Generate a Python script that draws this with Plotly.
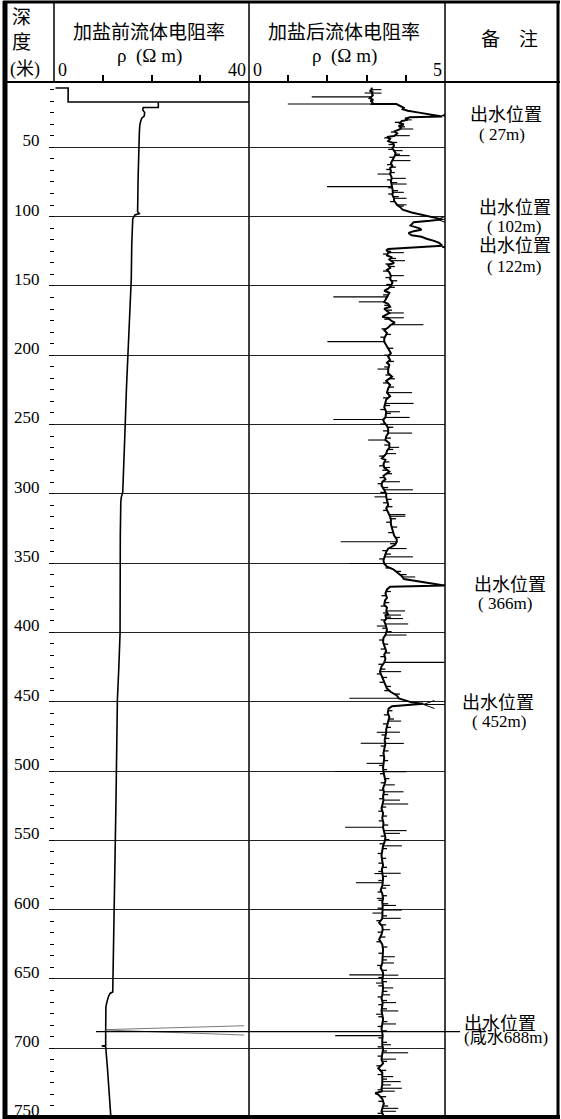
import plotly.graph_objects as go

W, H = 561, 1119

# ---------------- data ----------------
depth_major = [50, 100, 150, 200, 250, 300, 350, 400, 450, 500, 550, 600, 650, 700, 750]
border_ticks = [25, 75, 125, 175, 225, 275, 325, 375, 425, 475, 525, 575, 625, 675, 725]
rho1_ticks = [10, 20, 30]
rho2_ticks = [1, 2, 3, 4]

# before salting: (depth m, resistivity ohm-m)
before_log = [
    (7.2, 0.3), (7.2, 2.9), (17.3, 2.9), (17.3, 40.0), (17.3, 21.4), (21.3, 21.4),
    (21.3, 18.3), (23.0, 18.2), (25.0, 18.6), (27.5, 18.5), (29.0, 18.0), (31.0, 17.8),
    (34.0, 17.6), (40.0, 17.5), (48.8, 17.4), (60.0, 17.35), (72.9, 17.25), (85.0, 17.2),
    (96.5, 17.15), (97.8, 17.5), (98.8, 16.6), (101.7, 16.15), (110.0, 16.0), (120.0, 15.95),
    (145.0, 15.85), (170.0, 15.5), (200.3, 15.05), (225.0, 14.85), (250.9, 14.6), (275.0, 14.35),
    (299.0, 14.1), (302.5, 13.8), (306.2, 13.7), (330.0, 13.6), (349.5, 13.55), (376.0, 13.55),
    (400.7, 13.55), (425.0, 13.3), (448.8, 13.0), (475.0, 12.9), (501.7, 12.85), (525.0, 12.7),
    (549.8, 12.58), (575.0, 12.45), (600.3, 12.38), (625.0, 12.25), (646.0, 12.17), (659.5, 12.05),
    (660.5, 11.5), (662.5, 11.2), (666.0, 10.9), (670.0, 10.65), (686.7, 10.6), (698.0, 10.6),
    (698.3, 9.8), (698.8, 10.6), (713.3, 10.94), (737.4, 11.49), (751.0, 11.69),
]
before_spike = [(686.6, 10.6), (683.8, 39.0), None, (686.9, 10.6), (690.5, 39.0)]

# after salting, main trend: (depth m, resistivity ohm-m)
after_base = [
    (7.0, 3.12), (8.4, 3.14), (9.3, 3.08), (10.2, 3.15), (11.0, 3.13), (12.5, 3.16), (13.6, 3.12),
    (14.6, 3.08), (15.8, 3.17), (16.5, 3.10), (17.5, 3.15), (18.7, 3.13), (18.8, 3.76), (20.0, 3.85),
    (21.5, 3.95), (22.5, 3.92), (23.6, 4.05), (24.8, 4.30), (25.8, 4.55), (26.8, 4.75), (27.7, 4.93),
    (28.4, 4.10), (29.5, 3.98), (30.2, 4.05), (31.0, 3.90), (32.5, 3.85), (33.5, 3.95), (34.5, 3.82),
    (36.0, 3.88), (37.0, 3.85), (38.5, 3.72), (40.0, 3.78), (41.8, 3.70), (42.5, 3.52), (44.0, 3.60),
    (45.5, 3.55), (47.0, 3.68), (49.0, 3.70), (50.5, 3.66), (52.5, 3.70), (54.0, 3.74), (56.1, 3.72),
    (58.0, 3.68), (59.7, 3.66), (61.5, 3.62), (63.5, 3.66), (65.0, 3.60), (67.0, 3.62), (69.4, 3.60),
    (71.0, 3.63), (72.5, 3.64), (74.5, 3.62), (76.6, 3.64), (78.5, 3.65), (80.0, 3.66), (82.6, 3.67),
    (84.5, 3.66), (86.9, 3.70), (88.5, 3.70), (90.0, 3.74), (91.6, 3.78), (93.0, 3.85), (95.0, 3.92),
    (97.0, 4.15), (98.8, 4.45), (100.5, 4.75), (102.0, 4.93), (103.0, 4.62), (104.0, 4.20),
    (106.5, 4.12), (108.5, 4.35), (109.5, 4.40), (110.5, 4.20), (111.8, 4.07), (113.5, 4.15),
    (114.5, 4.40), (116.0, 4.53), (117.5, 4.72), (119.0, 4.85), (121.0, 4.93), (123.4, 3.55),
    (124.5, 3.50), (125.5, 3.62), (126.1, 3.55), (128.0, 3.52), (129.5, 3.65), (131.0, 3.58),
    (131.9, 3.62), (133.5, 3.70), (135.0, 3.55), (137.0, 3.60), (138.5, 3.52), (140.2, 3.58),
    (142.7, 3.62), (145.0, 3.60), (147.5, 3.66), (150.0, 3.62), (152.0, 3.55), (153.5, 3.45),
    (155.0, 3.58), (158.0, 3.52), (160.0, 3.48), (161.6, 3.45), (163.0, 3.55), (165.0, 3.60),
    (166.5, 3.45), (168.5, 3.55), (169.6, 3.58), (171.0, 3.48), (172.3, 3.40), (173.1, 3.55),
    (175.0, 3.62), (176.5, 3.72), (178.1, 3.62), (180.0, 3.55), (182.0, 3.45), (184.0, 3.52),
    (186.0, 3.48), (188.0, 3.45), (190.3, 3.45), (193.5, 3.52), (196.0, 3.58), (198.5, 3.62),
    (201.0, 3.55), (203.5, 3.60), (205.5, 3.52), (207.0, 3.58), (210.1, 3.55), (213.0, 3.55),
    (215.5, 3.65), (218.5, 3.50), (221.5, 3.60), (224.0, 3.55), (227.1, 3.52), (229.5, 3.60),
    (232.0, 3.50), (234.9, 3.48), (237.5, 3.45), (240.9, 3.50), (243.0, 3.48), (245.0, 3.48),
    (246.5, 3.42), (248.5, 3.45), (251.0, 3.52), (253.0, 3.55), (256.3, 3.55), (258.5, 3.50),
    (261.3, 3.48), (263.5, 3.58), (266.6, 3.58), (269.0, 3.52), (271.1, 3.50), (274.5, 3.39),
    (275.5, 3.48), (278.5, 3.43), (281.1, 3.45), (284.0, 3.58), (287.0, 3.43), (289.5, 3.48),
    (291.4, 3.40), (294.0, 3.38), (297.2, 3.45), (300.0, 3.50), (302.3, 3.50), (305.0, 3.52),
    (308.0, 3.55), (310.5, 3.50), (313.5, 3.55), (315.2, 3.58), (316.4, 3.60), (319.0, 3.62),
    (322.0, 3.62), (326.0, 3.66), (330.0, 3.70), (333.0, 3.77), (334.7, 3.77), (337.0, 3.72),
    (339.6, 3.55), (342.0, 3.50), (345.6, 3.45), (348.0, 3.43), (350.4, 3.45), (352.5, 3.52),
    (354.5, 3.68), (357.0, 3.80), (359.5, 3.90), (361.5, 3.95), (366.2, 4.98), (367.0, 3.60),
    (369.0, 3.52), (372.0, 3.48), (375.0, 3.52), (377.0, 3.47), (380.0, 3.45), (382.0, 3.52),
    (384.6, 3.50), (387.0, 3.55), (387.6, 3.48), (390.1, 3.50), (392.0, 3.45), (394.0, 3.48),
    (395.5, 3.50), (398.0, 3.52), (402.0, 3.48), (404.0, 3.43), (407.0, 3.42), (410.0, 3.46),
    (413.5, 3.50), (416.0, 3.45), (419.0, 3.48), (421.7, 3.45), (424.5, 3.38), (428.4, 3.34),
    (431.0, 3.38), (434.0, 3.42), (437.5, 3.46), (440.5, 3.52), (443.0, 3.62), (445.5, 3.77),
    (447.6, 3.82), (449.0, 3.98), (450.5, 4.15), (451.4, 4.45), (452.0, 4.20), (453.2, 3.65),
    (455.0, 3.56), (458.0, 3.54), (461.0, 3.58), (464.1, 3.55), (467.0, 3.52), (470.0, 3.50),
    (472.2, 3.50), (475.0, 3.48), (478.0, 3.46), (480.2, 3.48), (483.5, 3.46), (487.0, 3.43),
    (490.5, 3.45), (494.6, 3.43), (497.5, 3.42), (500.6, 3.43), (503.5, 3.46), (507.0, 3.48),
    (510.1, 3.45), (512.5, 3.42), (515.1, 3.44), (518.5, 3.42), (521.1, 3.43), (523.9, 3.40),
    (527.0, 3.38), (530.5, 3.42), (534.0, 3.40), (537.5, 3.43), (540.7, 3.42), (543.1, 3.44),
    (545.1, 3.45), (548.0, 3.48), (551.0, 3.46), (554.1, 3.42), (557.5, 3.40), (561.0, 3.38),
    (565.0, 3.40), (568.0, 3.42), (571.0, 3.39), (574.1, 3.40), (577.5, 3.42), (580.7, 3.41),
    (582.6, 3.40), (586.0, 3.36), (588.5, 3.40), (592.0, 3.42), (594.5, 3.40), (597.1, 3.41),
    (600.4, 3.40), (602.6, 3.41), (606.4, 3.40), (609.5, 3.32), (612.0, 3.40), (614.6, 3.41),
    (618.0, 3.38), (621.5, 3.32), (625.0, 3.40), (629.0, 3.42), (634.1, 3.40), (638.6, 3.40),
    (642.0, 3.36), (645.5, 3.42), (647.3, 3.42), (651.0, 3.40), (653.1, 3.41), (656.6, 3.42),
    (661.6, 3.40), (664.0, 3.38), (667.2, 3.41), (670.0, 3.40), (673.2, 3.38), (675.6, 3.40),
    (679.0, 3.42), (682.6, 3.40), (686.0, 3.38), (689.0, 3.40), (691.0, 3.41), (694.0, 3.40),
    (697.6, 3.40), (700.5, 3.42), (703.4, 3.40), (708.0, 3.38), (711.0, 3.42), (714.5, 3.30),
    (717.5, 3.40), (720.6, 3.40), (724.2, 3.41), (726.6, 3.40), (729.0, 3.38), (731.1, 3.39),
    (732.5, 3.22), (733.5, 3.30), (736.5, 3.40), (740.0, 3.44), (743.5, 3.40), (745.6, 3.38),
    (748.0, 3.42), (751.0, 3.41),
]

# after salting, narrow spikes: (depth m, foot value, tip value)
after_spikes = [
    (8.4, 3.14, 3.38), (10.8, 3.10, 2.95), (10.9, 3.10, 3.38), (13.6, 3.12, 1.60),
    (18.75, 3.13, 0.99), (30.2, 4.00, 4.15), (36.8, 3.87, 4.19), (41.6, 3.72, 4.10),
    (52.4, 3.69, 3.92), (56.0, 3.72, 4.10), (59.6, 3.67, 4.12), (69.3, 3.60, 3.28),
    (72.4, 3.63, 4.00), (76.5, 3.63, 4.02), (78.4, 3.65, 1.99), (82.5, 3.67, 3.95),
    (86.8, 3.69, 4.02), (91.5, 3.77, 4.02), (126.0, 3.58, 3.95), (131.8, 3.60, 3.98),
    (142.6, 3.60, 3.95), (157.9, 3.55, 2.15), (161.5, 3.46, 2.80), (169.5, 3.57, 3.95),
    (173.0, 3.50, 3.95), (178.0, 3.65, 4.45), (190.2, 3.45, 2.00), (210.0, 3.56, 3.28),
    (227.0, 3.53, 4.16), (234.8, 3.49, 4.20), (240.8, 3.48, 3.85), (244.9, 3.48, 4.10),
    (246.4, 3.45, 2.15), (256.2, 3.55, 4.16), (261.2, 3.49, 3.04), (266.5, 3.58, 3.83),
    (271.0, 3.51, 3.75), (281.0, 3.46, 3.60), (291.3, 3.42, 3.85), (297.1, 3.44, 4.18),
    (302.2, 3.50, 3.20), (315.0, 3.57, 3.99), (316.2, 3.59, 3.99), (334.6, 3.77, 2.34),
    (339.5, 3.58, 4.02), (345.5, 3.46, 4.18), (350.3, 3.44, 2.56), (360.0, 3.91, 4.24),
    (384.5, 3.51, 3.98), (387.5, 3.50, 3.88), (390.0, 3.49, 3.93), (393.9, 3.47, 4.06),
    (395.4, 3.49, 3.26), (401.9, 3.49, 4.02), (421.6, 3.46, 4.98), (428.3, 3.35, 3.88),
    (447.5, 3.80, 2.56), (464.0, 3.56, 3.88), (472.0, 3.50, 3.85), (472.1, 3.50, 3.26),
    (480.0, 3.47, 2.85), (480.1, 3.47, 3.95), (494.5, 3.44, 3.00), (500.4, 3.43, 2.20),
    (500.5, 3.43, 4.02), (510.0, 3.46, 3.72), (515.0, 3.44, 3.94), (521.0, 3.43, 3.85),
    (523.8, 3.41, 4.06), (540.6, 3.42, 2.45), (543.0, 3.44, 4.02), (545.0, 3.45, 3.85),
    (554.0, 3.43, 3.90), (573.8, 3.40, 3.87), (574.0, 3.40, 3.20), (580.6, 3.41, 2.73),
    (582.5, 3.40, 3.60), (591.9, 3.41, 3.26), (597.0, 3.41, 3.75), (600.3, 3.40, 3.90),
    (602.5, 3.41, 3.15), (606.3, 3.40, 3.87), (614.5, 3.41, 3.60), (634.0, 3.40, 3.72),
    (638.5, 3.40, 3.70), (647.1, 3.42, 2.56), (647.3, 3.42, 3.81), (653.0, 3.41, 3.24),
    (656.5, 3.42, 3.68), (661.5, 3.40, 3.60), (667.1, 3.41, 3.75), (673.1, 3.38, 3.81),
    (675.5, 3.40, 3.24), (682.5, 3.40, 3.75), (690.9, 3.41, 2.20), (697.5, 3.40, 3.62),
    (703.3, 3.40, 4.06), (707.9, 3.38, 3.75), (720.5, 3.40, 3.68), (724.1, 3.41, 3.87),
    (726.5, 3.40, 3.62), (728.9, 3.38, 3.90), (731.0, 3.39, 3.72), (743.4, 3.40, 3.81),
    (745.5, 3.38, 3.75),
]

# after salting, short jitter ticks seen along the trace: (depth m, foot value, tip value)
after_ticks = [
    (29.0, 3.98, 4.08), (32.0, 3.87, 3.72), (35.2, 3.85, 3.98), (39.0, 3.75, 3.62),
    (43.2, 3.56, 3.45), (46.5, 3.62, 3.78), (48.0, 3.69, 3.56), (51.5, 3.68, 3.55),
    (55.0, 3.73, 3.85), (57.2, 3.70, 3.58), (62.5, 3.64, 3.52), (64.3, 3.63, 3.75),
    (66.0, 3.61, 3.50), (68.2, 3.61, 3.72), (73.5, 3.63, 3.52), (75.5, 3.63, 3.78),
    (79.2, 3.65, 3.55), (81.3, 3.66, 3.80), (83.7, 3.67, 3.55), (85.6, 3.68, 3.82),
    (89.2, 3.72, 3.60), (92.4, 3.80, 3.95), (127.0, 3.53, 3.42), (130.2, 3.60, 3.75),
    (134.2, 3.62, 3.48), (136.0, 3.58, 3.72), (139.3, 3.55, 3.42), (144.0, 3.61, 3.48),
    (146.3, 3.63, 3.78), (149.0, 3.64, 3.50), (151.0, 3.58, 3.72), (156.5, 3.55, 3.42),
    (164.0, 3.58, 3.45), (167.5, 3.50, 3.65), (174.0, 3.58, 3.45), (181.0, 3.50, 3.38),
    (185.0, 3.50, 3.62), (187.0, 3.46, 3.35), (195.0, 3.55, 3.68), (200.0, 3.58, 3.45),
    (204.5, 3.56, 3.70), (208.5, 3.57, 3.45), (214.3, 3.60, 3.48), (217.0, 3.57, 3.72),
    (220.0, 3.55, 3.42), (223.0, 3.57, 3.70), (230.8, 3.55, 3.42), (236.3, 3.46, 3.60),
    (239.2, 3.47, 3.35), (242.0, 3.49, 3.62), (249.7, 3.48, 3.35), (252.0, 3.53, 3.68),
    (254.6, 3.55, 3.42), (259.8, 3.49, 3.62), (264.8, 3.58, 3.45), (268.0, 3.55, 3.68),
    (272.8, 3.45, 3.32), (277.0, 3.46, 3.58), (279.8, 3.44, 3.32), (283.0, 3.52, 3.40),
    (285.5, 3.50, 3.65), (288.3, 3.45, 3.33), (292.7, 3.39, 3.28), (295.5, 3.41, 3.55),
    (299.0, 3.48, 3.35), (304.0, 3.51, 3.64), (306.5, 3.53, 3.42), (309.3, 3.52, 3.66),
    (312.0, 3.52, 3.42), (318.0, 3.61, 3.75), (320.5, 3.62, 3.50), (324.0, 3.64, 3.78),
    (328.0, 3.68, 3.55), (331.5, 3.73, 3.85), (336.0, 3.74, 3.60), (341.0, 3.52, 3.40),
    (343.5, 3.48, 3.62), (347.0, 3.44, 3.32), (353.5, 3.60, 3.48), (356.0, 3.75, 3.88),
    (358.3, 3.85, 4.02), (370.5, 3.50, 3.62), (373.5, 3.50, 3.38), (378.5, 3.46, 3.58),
    (381.0, 3.48, 3.36), (386.0, 3.53, 3.42), (389.0, 3.49, 3.62), (391.0, 3.47, 3.36),
    (397.0, 3.51, 3.40), (399.5, 3.51, 3.64), (405.5, 3.42, 3.32), (408.5, 3.44, 3.55),
    (412.0, 3.48, 3.36), (414.8, 3.48, 3.60), (417.5, 3.46, 3.35), (423.0, 3.42, 3.30),
    (426.5, 3.36, 3.48), (430.0, 3.36, 3.26), (432.5, 3.40, 3.52), (436.0, 3.44, 3.33),
    (439.0, 3.49, 3.62), (442.0, 3.57, 3.45), (444.5, 3.70, 3.85), (456.5, 3.55, 3.66),
    (459.5, 3.56, 3.44), (462.5, 3.57, 3.70), (466.0, 3.53, 3.42), (468.5, 3.51, 3.62),
    (474.0, 3.49, 3.38), (476.5, 3.47, 3.58), (482.0, 3.47, 3.36), (485.5, 3.45, 3.56),
    (489.0, 3.44, 3.33), (492.5, 3.44, 3.55), (496.0, 3.43, 3.32), (499.0, 3.42, 3.52),
    (502.0, 3.45, 3.34), (505.5, 3.47, 3.58), (508.5, 3.47, 3.36), (513.8, 3.43, 3.32),
    (517.0, 3.43, 3.55), (520.0, 3.42, 3.32), (526.0, 3.39, 3.50), (529.0, 3.40, 3.30),
    (532.5, 3.41, 3.52), (536.0, 3.42, 3.31), (539.0, 3.42, 3.55), (547.0, 3.47, 3.36),
    (549.5, 3.47, 3.58), (552.5, 3.44, 3.33), (556.0, 3.41, 3.52), (559.5, 3.39, 3.28),
    (563.0, 3.39, 3.50), (566.5, 3.41, 3.30), (569.5, 3.40, 3.52), (572.5, 3.40, 3.30),
    (576.0, 3.41, 3.52), (579.0, 3.41, 3.30), (584.5, 3.38, 3.50), (587.3, 3.38, 3.28),
    (590.0, 3.41, 3.52), (593.3, 3.41, 3.30), (595.8, 3.40, 3.55), (599.0, 3.40, 3.28),
    (604.5, 3.40, 3.52), (608.0, 3.35, 3.25), (611.0, 3.37, 3.50), (616.3, 3.40, 3.28),
    (619.8, 3.35, 3.48), (623.2, 3.36, 3.25), (627.0, 3.41, 3.53), (631.5, 3.41, 3.30),
    (636.3, 3.40, 3.52), (640.3, 3.38, 3.27), (643.8, 3.39, 3.52), (649.0, 3.41, 3.30),
    (652.0, 3.40, 3.52), (655.0, 3.41, 3.30), (659.0, 3.41, 3.53), (663.0, 3.39, 3.28),
    (665.6, 3.40, 3.52), (668.6, 3.40, 3.30), (671.6, 3.39, 3.52), (677.3, 3.41, 3.30),
    (680.8, 3.41, 3.53), (684.3, 3.39, 3.28), (687.5, 3.39, 3.52), (692.5, 3.40, 3.30),
    (695.8, 3.40, 3.52), (699.0, 3.41, 3.28), (702.0, 3.41, 3.52), (705.7, 3.39, 3.28),
    (709.5, 3.40, 3.52), (712.7, 3.36, 3.25), (716.0, 3.35, 3.50), (719.0, 3.40, 3.28),
    (722.3, 3.40, 3.52), (730.0, 3.38, 3.28), (735.0, 3.35, 3.50), (738.3, 3.42, 3.30),
    (741.7, 3.42, 3.55), (747.0, 3.40, 3.28), (749.3, 3.41, 3.55),
]

outlet_depths = [27, 102, 122, 366, 452, 688]
outlet_tip_rho = [4.93, 4.80, 4.93, 4.96, 4.45]
outlet_titles = ["出水位置", "出水位置", "出水位置", "出水位置", "出水位置", "出水位置"]
outlet_notes = ["(\u00a027m)", "(\u00a0102m)", "(\u00a0122m)", "(\u00a0366m)", "(\u00a0452m)", "(咸水688m)"]

# ---------------- helpers ----------------
def px(x):
    return x / W


def py(y):
    return 1 - y / H


Y0_PIX, PIX_PER_M = 78.0, 1.386  # depth 0 position and scale
HEAD_BOTTOM = 82
y_top = (HEAD_BOTTOM - Y0_PIX) / PIX_PER_M
y_bot = (H - Y0_PIX) / PIX_PER_M

SERIF = "Liberation Serif, Noto Sans CJK SC, serif"
CJK = "Noto Sans CJK SC, Liberation Serif, sans-serif"


def unzip(pairs):
    xs, ys = [], []
    for p in pairs:
        if p is None:
            xs.append(None)
            ys.append(None)
        else:
            ys.append(p[0])
            xs.append(p[1])
    return xs, ys


def segments(triples):
    xs, ys = [], []
    for d, foot, tip in triples:
        xs += [foot, tip, None]
        ys += [d, d, None]
    return xs, ys


fig = go.Figure()
bx, by = unzip(before_log)
fig.add_trace(go.Scatter(x=bx, y=by, xaxis="x", yaxis="y", mode="lines",
                         line=dict(color="black", width=1.6), hoverinfo="skip"))
sx, sy = unzip(before_spike)
fig.add_trace(go.Scatter(x=sx, y=sy, xaxis="x", yaxis="y", mode="lines", connectgaps=False,
                         line=dict(color="#555555", width=0.8), hoverinfo="skip"))
ax_, ay_ = unzip(after_base)
fig.add_trace(go.Scatter(x=ax_, y=ay_, xaxis="x2", yaxis="y2", mode="lines",
                         line=dict(color="black", width=2.0), hoverinfo="skip"))
tx, ty = segments(after_ticks)
fig.add_trace(go.Scatter(x=tx, y=ty, xaxis="x2", yaxis="y2", mode="lines", connectgaps=False,
                         line=dict(color="black", width=1.3), hoverinfo="skip"))
kx, ky = segments(after_spikes)
fig.add_trace(go.Scatter(x=kx, y=ky, xaxis="x2", yaxis="y2", mode="lines", connectgaps=False,
                         line=dict(color="black", width=1.1), hoverinfo="skip"))

track_y = dict(domain=[0, py(HEAD_BOTTOM)], range=[y_bot, y_top], zeroline=False,
               showgrid=True, gridcolor="#222222", gridwidth=1,
               tickmode="array", tickvals=depth_major, showline=False)

fig.update_layout(
    width=W, height=H, margin=dict(l=0, r=0, t=0, b=0),
    paper_bgcolor="white", plot_bgcolor="white", showlegend=False,
    xaxis=dict(domain=[px(54), px(249)], range=[0, 40], side="top", anchor="y",
               tickmode="array", tickvals=rho1_ticks, ticks="outside", ticklen=6, tickwidth=2,
               tickcolor="black", showticklabels=False, showgrid=False, zeroline=False, showline=False),
    xaxis2=dict(domain=[px(249), px(445)], range=[0, 5], side="top", anchor="y2",
                tickmode="array", tickvals=rho2_ticks, ticks="outside", ticklen=6, tickwidth=2,
                tickcolor="black", showticklabels=False, showgrid=False, zeroline=False, showline=False),
    yaxis=dict(**track_y, anchor="free", position=px(54), side="left",
               ticks="outside", ticklen=5, tickcolor="black", tickwidth=1,
               tickfont=dict(family=SERIF, size=17, color="black"),
               ticklabelstandoff=6, ticklabelshift=7, ticklabeloverflow="allow",
               minor=dict(tickmode="linear", tick0=0, dtick=50 / 6, ticks="outside",
                          ticklen=4, tickcolor="black", showgrid=False)),
    yaxis2=dict(**track_y, anchor="x2", showticklabels=False, ticks=""),
    yaxis3=dict(range=[y_bot, y_top], overlaying="y", anchor="free", position=px(7), side="left",
                tickmode="array", tickvals=border_ticks, ticks="inside", ticklen=4,
                tickcolor="black", showticklabels=False, showgrid=False, zeroline=False, showline=False),
)

shapes = []


def pline(x0, y0, x1, y1, w, color="black"):
    shapes.append(dict(type="line", xref="paper", yref="paper", x0=px(x0), y0=py(y0),
                       x1=px(x1), y1=py(y1), line=dict(color=color, width=w), layer="above"))


# frame
pline(5, 1, 5, H, 5)
pline(558, 1, 558, H, 3)
pline(3, 2, 560, 2, 3)
pline(3, 1117, 560, 1117, 4)
pline(3, HEAD_BOTTOM, 560, HEAD_BOTTOM, 2)
pline(54, 2, 54, HEAD_BOTTOM, 1.5)
pline(249, 2, 249, 1116, 1.5)
pline(445, 2, 445, 1116, 1.5)

# outlet arrows (open chevron + leader line)
leader_px = [23, 24, 28, 15, 28]
for d, r, L in zip(outlet_depths[:5], outlet_tip_rho, leader_px):
    shapes.append(dict(type="line", xref="x2", yref="y2", xsizemode="pixel", xanchor=r,
                       x0=0, x1=L, y0=d, y1=d, line=dict(color="black", width=1), layer="above"))
    for s in (1, -1):
        shapes.append(dict(type="line", xref="x2", yref="y2", xsizemode="pixel", xanchor=r,
                           ysizemode="pixel", yanchor=d, x0=0, x1=11, y0=0, y1=4 * s,
                           line=dict(color="black", width=1), layer="above"))
# 688 m salt-water line
shapes.append(dict(type="line", xref="paper", yref="y", x0=px(96), x1=px(460),
                   y0=outlet_depths[5], y1=outlet_depths[5],
                   line=dict(color="black", width=1.2), layer="above"))
fig.update_layout(shapes=shapes)

ann = []


def text(t, x, y, size, family=SERIF, xanchor="center"):
    ann.append(dict(text=t, xref="paper", yref="paper", x=px(x), y=py(y), xanchor=xanchor,
                    yanchor="middle", showarrow=False, font=dict(family=family, size=size, color="black")))


text("深", 21, 15, 19, CJK)
text("度", 21, 41, 19, CJK)
text("(米)", 25, 69, 18)
text("加盐前流体电阻率", 149, 31, 19, CJK)
text("加盐后流体电阻率", 344, 31, 19, CJK)
text("备\u3000注", 509, 38, 19, CJK)
text("ρ\u00a0\u00a0(Ω\u00a0m)", 149, 56, 19)
text("ρ\u00a0\u00a0(Ω\u00a0m)", 344, 56, 19)
text("0", 56, 70, 18, xanchor="left")
text("40", 248, 70, 18, xanchor="right")
text("0", 251, 70, 18, xanchor="left")
text("5", 444, 70, 18, xanchor="right")

title_pos = [(506, 113), (515, 206), (515, 244), (510, 583), (498, 701), (500, 1022)]
note_pos = [(502, 134), (514, 226), (514, 267), (505, 603), (499, 721), (506, 1037)]
for t, n, tp, npos in zip(outlet_titles, outlet_notes, title_pos, note_pos):
    text(t, tp[0], tp[1], 18, CJK)
    text(n, npos[0], npos[1], 17)

fig.update_layout(annotations=ann)

fig.write_html("out.html", config={"displayModeBar": False},
               post_script="document.body.style.margin='0';document.body.style.overflow='hidden';")
